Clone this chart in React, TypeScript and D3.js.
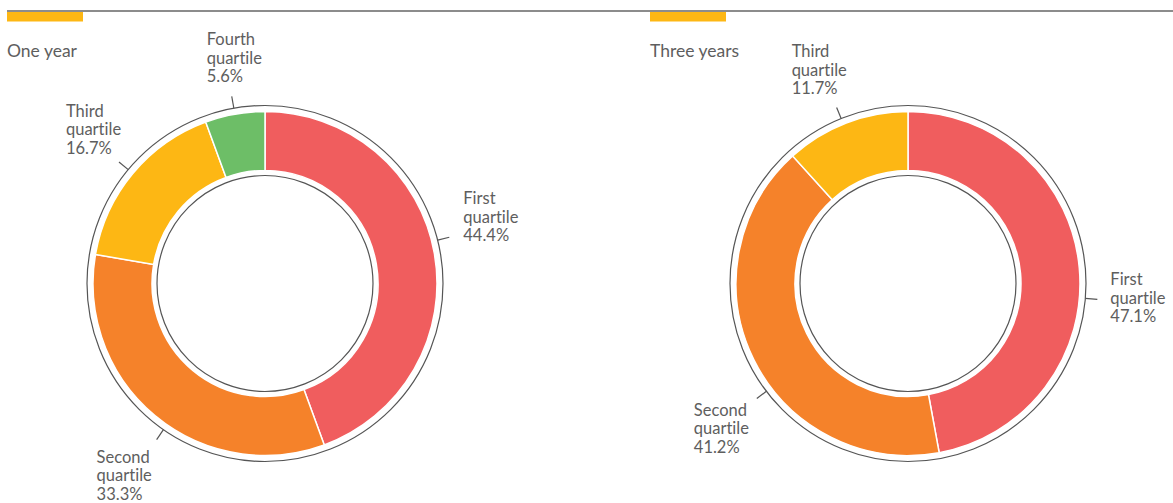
import React from "react";
import * as d3 from "d3";

// ---- data ----
const categories = ["First quartile", "Second quartile", "Third quartile", "Fourth quartile"];
const oneYearValues = [44.4, 33.3, 16.7, 5.6];
const threeYearValues = [47.1, 41.2, 11.7];
const panelTitles = ["One year", "Three years"];
const sliceColors = ["#F05D5E", "#F5822A", "#FDB714", "#6DBE67"];

// ---- layout config (not data) ----
const W = 1173;
const H = 503;
const panelX = [7, 650];
const cxOffset = 258;
const cy = 283.5;
const rOuter = 172;
const rInner = 113;
const rRing = 178;
const rHole = 108;
const tickEnd = 190;
const lineH = 18.5;
const textColor = "#5e5e5e";
const lineColor = "#555";
// label placement nudges per panel: [angleNudgeDeg, dx, dy(first baseline)]
const labelPlacement = [
  [
    [-4, 14, -33],
    [-5, -60, 23],
    [0, -53, -45],
    [0, -25, -51],
  ],
  [
    [10, 13, -14],
    [-11, -63, 17],
    [-1, -45, -50],
  ],
];

function Donut({ values, title, x0, placement }: { values: number[]; title: string; x0: number; placement: number[][] }) {
  const cx = x0 + cxOffset;
  const pie = d3.pie<number>().sort(null).value((d) => d);
  const arcs = pie(values);
  const arc = d3.arc<d3.PieArcDatum<number>>().innerRadius(rInner).outerRadius(rOuter);
  return (
    <g>
      <rect x={x0} y={12} width={76} height={9.5} fill="#FDB714" />
      <text x={x0} y={57} fontSize={17.5} fill={textColor}>{title}</text>
      <circle cx={cx} cy={cy} r={rRing} fill="none" stroke={lineColor} strokeWidth={1.2} />
      <g transform={`translate(${cx},${cy})`}>
        {arcs.map((a, i) => (
          <path key={i} d={arc(a) || ""} fill={sliceColors[i]} stroke="#fff" strokeWidth={1.5} />
        ))}
      </g>
      <circle cx={cx} cy={cy} r={rHole} fill="#fff" stroke={lineColor} strokeWidth={1.2} />
      {arcs.map((a, i) => {
        const [nudge, dx, dy] = placement[i];
        const ang = (a.startAngle + a.endAngle) / 2 + (nudge * Math.PI) / 180;
        const x1 = cx + rRing * Math.sin(ang);
        const y1 = cy - rRing * Math.cos(ang);
        const x2 = cx + tickEnd * Math.sin(ang);
        const y2 = cy - tickEnd * Math.cos(ang);
        const words = categories[i].split(" ");
        const lines = [words[0], words[1], `${values[i].toFixed(1)}%`];
        return (
          <g key={"l" + i}>
            <line x1={x1} y1={y1} x2={x2} y2={y2} stroke={lineColor} strokeWidth={1.2} />
            <text x={x2 + dx} y={y2 + dy} fontSize={16.5} fill={textColor}>
              {lines.map((t, j) => (
                <tspan key={j} x={x2 + dx} dy={j === 0 ? 0 : lineH}>{t}</tspan>
              ))}
            </text>
          </g>
        );
      })}
    </g>
  );
}

export default function App() {
  return (
    <svg
      width={W}
      height={H}
      style={{
        position: "absolute",
        left: 0,
        top: 0,
        fontFamily: "Lato, 'Noto Sans', sans-serif",
        fontVariantLigatures: "none",
      }}
    >
      <rect width={W} height={H} fill="#fff" />
      <line x1={7} x2={W} y1={11} y2={11} stroke="#666" strokeWidth={1.3} />
      <Donut values={oneYearValues} title={panelTitles[0]} x0={panelX[0]} placement={labelPlacement[0]} />
      <Donut values={threeYearValues} title={panelTitles[1]} x0={panelX[1]} placement={labelPlacement[1]} />
    </svg>
  );
}
